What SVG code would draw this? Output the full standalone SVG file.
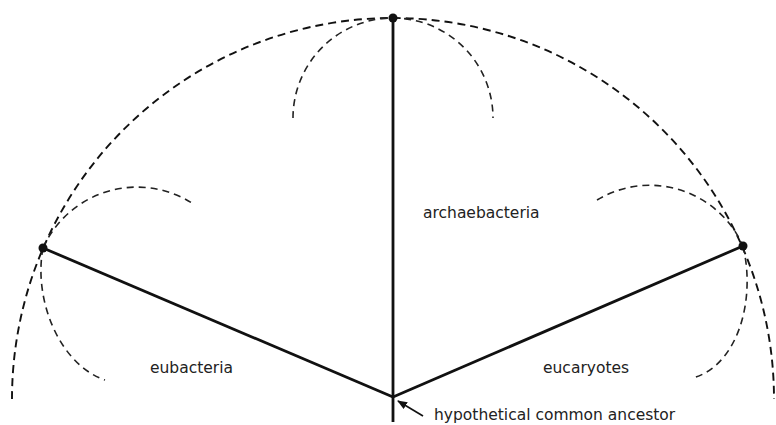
<svg xmlns="http://www.w3.org/2000/svg" width="776" height="425" viewBox="0 0 776 425">
<style>
.big{fill:none;stroke:#111;stroke-width:1.9;stroke-dasharray:8 5}
.small{fill:none;stroke:#222;stroke-width:1.6;stroke-dasharray:7 5}
.edge{fill:none;stroke:#111;stroke-width:2.8}
.dot{fill:#111}
.lbl{font-family:"DejaVu Sans",sans-serif;font-size:15.5px;fill:#222}
</style>
<defs>
<marker id="ah" markerWidth="10" markerHeight="8" refX="9" refY="4" orient="auto" markerUnits="userSpaceOnUse">
<path d="M0,0 L10,4 L0,8 Z" fill="#111"/>
</marker>
</defs>
<rect width="776" height="425" fill="#fff"/>
<g id="arcs">
<path class="big" d="M12,399 A381,381 0 0 1 774,399"/>
<path class="small" d="M293,118 A100,100 0 0 1 493,118"/>
<path class="small" d="M43,248 A103,103 0 0 1 192,203"/>
<path class="small" d="M43,248 C33,300 60,365 105,380"/>
<path class="small" d="M597,200 A102,102 0 0 1 743,246"/>
<path class="small" d="M743,246 C756,300 738,365 693,378"/>
</g>
<g id="connectors">
<line class="edge" x1="393" y1="18" x2="393" y2="422"/>
<line class="edge" x1="43" y1="248" x2="393" y2="397"/>
<line class="edge" x1="393" y1="397" x2="743" y2="246"/>
<line x1="423" y1="416" x2="398" y2="401" stroke="#111" stroke-width="1.6" marker-end="url(#ah)"/>
</g>
<g id="node-top"><circle class="dot" cx="393" cy="18" r="4.5"/></g>
<g id="node-left"><circle class="dot" cx="43" cy="248" r="4.5"/></g>
<g id="node-right"><circle class="dot" cx="743" cy="246" r="4.5"/></g>
<g id="node-ancestor"><text class="lbl" x="434" y="420">hypothetical common ancestor</text></g>
<g id="label-archaebacteria"><text class="lbl" x="423" y="218">archaebacteria</text></g>
<g id="label-eubacteria"><text class="lbl" x="150" y="373">eubacteria</text></g>
<g id="label-eucaryotes"><text class="lbl" x="543" y="373">eucaryotes</text></g>
</svg>
